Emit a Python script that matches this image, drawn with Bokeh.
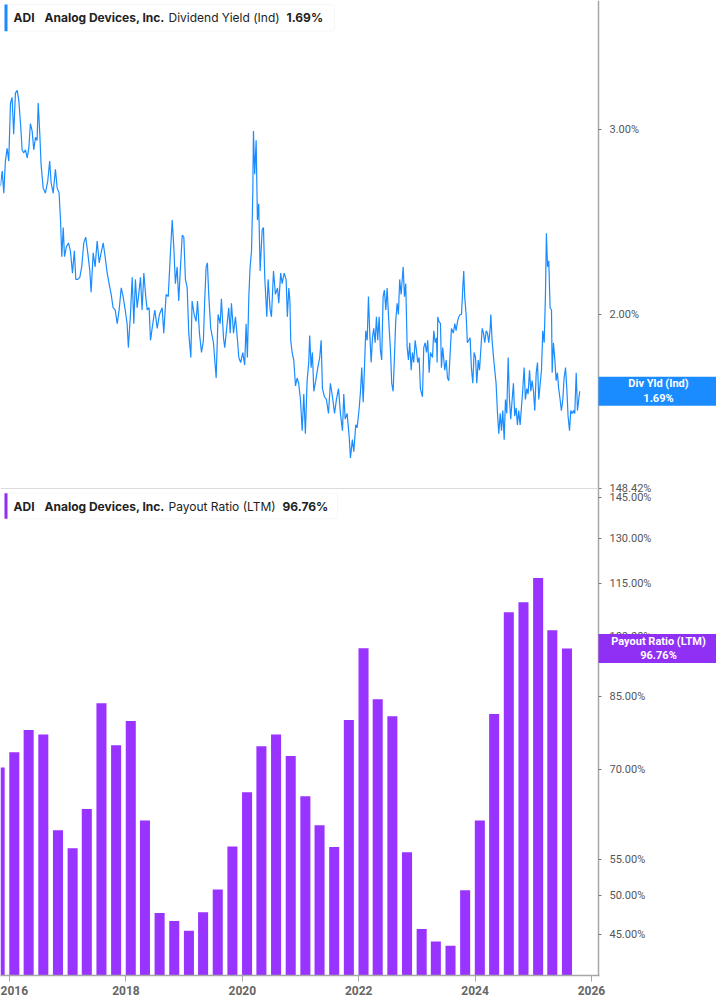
import math
import pandas as pd
from bokeh.plotting import figure
from bokeh.models import Range1d, LogScale, FixedTicker, Label, BoxAnnotation
from bokeh.embed import file_html
from bokeh.resources import INLINE

# ---------------- data ----------------
ticker_symbol = "ADI"
company = "Analog Devices, Inc."
yield_title = "Dividend Yield (Ind)"
yield_short = "Div Yld (Ind)"
payout_title = "Payout Ratio (LTM)"

# dividend yield (%): observation day (days after yield_start) and value
yield_start = "2015-11-05"
yield_days = [
    0, 11, 21, 31, 42, 52, 63, 73, 83, 94,
    105, 115, 126, 136, 146, 157, 168, 178, 188, 199,
    209, 220, 230, 237, 247, 255, 268, 282, 297, 309,
    318, 331, 345, 356, 368, 377, 385, 394, 402, 414,
    427, 439, 452, 464, 473, 485, 498, 510, 523, 535,
    548, 561, 569, 582, 594, 607, 620, 632, 645, 657,
    670, 682, 695, 707, 720, 733, 745, 758, 770, 783,
    795, 803, 816, 827, 837, 847, 858, 868, 879, 889,
    900, 912, 921, 933, 942,
    952, 969, 984, 998, 1015, 1025, 1040, 1053, 1067, 1078,
    1088, 1098, 1109, 1119, 1130, 1141, 1151, 1161, 1172, 1182,
    1195, 1203, 1216, 1228, 1237, 1249, 1262, 1274, 1282, 1291,
    1299, 1308, 1320, 1337, 1354, 1366, 1379, 1387, 1400, 1408,
    1420, 1433, 1442, 1450, 1463, 1475, 1488, 1496, 1508, 1521,
    1533, 1542, 1550, 1559, 1567, 1576, 1584, 1588, 1596, 1605,
    1613, 1621, 1630, 1643, 1651, 1659, 1672, 1680, 1693, 1701,
    1714, 1726, 1739, 1747, 1759, 1768, 1781, 1793, 1801, 1810,
    1817,
    1822, 1831, 1841, 1852, 1862, 1872, 1883, 1894, 1904, 1914,
    1925, 1935, 1941, 1950, 1958, 1967, 1979, 1992, 2004, 2013,
    2021, 2034, 2046, 2059, 2071, 2084, 2097, 2109, 2122, 2134,
    2147, 2155, 2164, 2176, 2189, 2197, 2209, 2218, 2230, 2239,
    2252, 2260, 2268, 2277, 2285, 2293, 2302, 2310, 2318, 2327,
    2335, 2343, 2352, 2360, 2368, 2377, 2385, 2393, 2402, 2410,
    2419, 2427, 2440, 2448, 2456, 2465, 2473, 2481, 2490, 2498,
    2506, 2515, 2523, 2528, 2536, 2544, 2553, 2561, 2569, 2578,
    2586, 2594, 2603, 2611, 2619, 2628, 2636, 2649, 2657, 2666,
    2674, 2682, 2691, 2699, 2712, 2720, 2729,
    2737, 2741, 2745, 2752, 2762, 2768, 2776, 2789, 2798, 2806,
    2814, 2823, 2831, 2843, 2852, 2860, 2869, 2877, 2886, 2894,
    2902, 2908, 2914, 2923, 2931, 2940, 2948, 2956, 2965, 2973,
    2982, 2990, 2999, 3007, 3015, 3024, 3032, 3040, 3049, 3057,
    3065, 3074, 3078, 3086, 3095, 3103, 3111, 3120, 3128, 3137,
    3145, 3153, 3162, 3170, 3178, 3187, 3195, 3203, 3212, 3220,
    3228, 3237, 3245, 3253, 3262, 3270, 3278, 3287, 3295, 3304,
    3312, 3321, 3329, 3337, 3346, 3354, 3363, 3371, 3379, 3388,
    3396, 3404, 3413, 3421, 3427, 3434, 3442, 3450, 3459, 3463,
    3471, 3479, 3488, 3496, 3504, 3513, 3521, 3530, 3538, 3547,
    3555, 3563, 3572, 3580, 3589, 3597, 3605, 3614, 3622, 3630,
    3636,
]
div_yield = [
    2.65, 2.74, 2.61, 2.80, 2.88, 2.80, 3.18, 3.22, 2.97, 3.25,
    3.27, 3.20, 3.04, 2.87, 2.85, 2.87, 2.82, 2.88, 3.04, 2.99,
    2.87, 2.95, 2.93, 3.18, 2.97, 2.78, 2.64, 2.61, 2.68, 2.80,
    2.67, 2.61, 2.75, 2.64, 2.61, 2.46, 2.27, 2.42, 2.27, 2.32,
    2.34, 2.30, 2.19, 2.30, 2.16, 2.16, 2.17, 2.22, 2.34, 2.37,
    2.29, 2.20, 2.10, 2.29, 2.22, 2.35, 2.24, 2.29, 2.34, 2.27,
    2.19, 2.14, 2.09, 2.03, 2.02, 1.96, 2.02, 2.12, 2.08, 2.02,
    1.96, 1.86, 2.00, 2.17, 1.96, 2.16, 2.03, 2.09, 2.17, 2.02,
    2.19, 2.08, 2.02, 2.03, 1.89,
    1.94, 2.02, 1.94, 2.00, 2.03, 1.92, 2.09, 2.08, 2.29, 2.46,
    2.32, 2.14, 2.22, 2.06, 2.22, 2.38, 2.37, 2.16, 2.12, 1.92,
    1.82, 2.06, 2.00, 1.97, 2.06, 1.92, 1.84, 1.89, 2.06, 2.22,
    2.24, 2.08, 1.94, 1.88, 1.74, 2.00, 1.96, 2.07, 1.90, 1.86,
    1.94, 2.03, 1.92, 2.05, 1.92, 1.99, 1.89, 1.82, 1.80, 1.84,
    1.79, 1.96, 1.82, 2.08, 2.22, 2.30, 2.61, 2.99, 2.72, 2.93,
    2.46, 2.55, 2.20, 2.41, 2.42, 2.17, 1.99, 2.16, 2.02, 1.99,
    2.20, 2.09, 2.12, 2.05, 2.19, 2.14, 2.19, 2.16, 1.99, 2.12,
    2.06,
    1.89, 1.84, 1.81, 1.71, 1.74, 1.72, 1.66, 1.55, 1.68, 1.54,
    1.73, 1.80, 1.91, 1.78, 1.84, 1.69, 1.73, 1.78, 1.82, 1.89,
    1.70, 1.67, 1.66, 1.61, 1.72, 1.67, 1.61, 1.66, 1.70, 1.61,
    1.55, 1.68, 1.59, 1.61, 1.53, 1.46, 1.52, 1.48, 1.57, 1.56,
    1.63, 1.69, 1.78, 1.65, 1.78, 1.93, 1.89, 2.08, 1.92, 1.80,
    1.90, 1.94, 1.88, 1.99, 1.89, 1.99, 1.85, 1.81, 2.08, 2.11,
    2.02, 2.12, 1.94, 1.85, 1.72, 1.69, 1.82, 1.97, 2.05, 2.00,
    2.16, 2.09, 2.17, 2.22, 2.08, 2.14, 1.86, 1.81, 1.88, 1.77,
    1.84, 1.80, 1.89, 1.85, 1.80, 1.82, 1.70, 1.67, 1.86, 1.88,
    1.84, 1.89, 1.76, 1.84, 1.82, 1.93, 1.88,
    1.90, 1.80, 1.99, 1.97, 1.96, 1.78, 1.86, 1.77, 1.81, 1.74,
    1.73, 1.84, 1.94, 1.92, 1.96, 1.93, 1.97, 1.99, 2.00, 2.00,
    2.12, 2.20, 2.08, 2.00, 1.88, 1.89, 1.90, 1.78, 1.72, 1.84,
    1.82, 1.72, 1.81, 1.77, 1.85, 1.94, 1.92, 1.88, 1.93, 1.92,
    1.88, 1.94, 2.00, 1.89, 1.82, 1.77, 1.72, 1.61, 1.54, 1.61,
    1.55, 1.62, 1.52, 1.66, 1.61, 1.82, 1.66, 1.59, 1.66, 1.72,
    1.60, 1.63, 1.57, 1.62, 1.57, 1.63, 1.69, 1.78, 1.66, 1.70,
    1.68, 1.77, 1.69, 1.73, 1.69, 1.62, 1.76, 1.80, 1.66, 1.72,
    1.77, 1.93, 1.88, 2.09, 2.39, 2.22, 2.25, 2.03, 2.02, 1.76,
    1.88, 1.82, 1.73, 1.76, 1.70, 1.66, 1.62, 1.66, 1.74, 1.78,
    1.70, 1.60, 1.55, 1.62, 1.61, 1.62, 1.61, 1.76, 1.62, 1.66,
    1.69,
]

# payout ratio (LTM, %), fiscal quarter ends
payout_dates = [
    "2015-10-31", "2016-01-31", "2016-04-30", "2016-07-31", "2016-10-31",
    "2017-01-31", "2017-04-30", "2017-07-31", "2017-10-31", "2018-01-31",
    "2018-04-30", "2018-07-31", "2018-10-31", "2019-01-31", "2019-04-30",
    "2019-07-31", "2019-10-31", "2020-01-31", "2020-04-30", "2020-07-31",
    "2020-10-31", "2021-01-31", "2021-04-30", "2021-07-31", "2021-10-31",
    "2022-01-31", "2022-04-30", "2022-07-31", "2022-10-31", "2023-01-31",
    "2023-04-30", "2023-07-31", "2023-10-31", "2024-01-31", "2024-04-30",
    "2024-07-31", "2024-10-31", "2025-01-31", "2025-04-30", "2025-07-31",
]
payout_ratio = [
    70.4, 73.3, 77.8, 76.9, 59.5, 56.7, 63.0, 83.6, 74.7, 79.7,
    61.1, 47.7, 46.7, 45.5, 47.8, 50.8, 57.0, 65.9, 74.5, 76.9,
    72.6, 65.2, 60.3, 56.9, 79.9, 96.8, 84.5, 80.7, 56.1, 45.7,
    44.2, 43.7, 50.7, 61.1, 81.2, 106.6, 109.5, 116.8, 101.6, 96.76,
]

pay_ticks = [45.0, 50.0, 55.0, 70.0, 85.0, 100.0, 115.0, 130.0, 145.0]
pay_top = 148.42
yld_ticks = [2.0, 3.0]
year_ticks = [2016, 2018, 2020, 2022, 2024, 2026]

# ---------------- styling / geometry ----------------
BLUE = "#1a8cff"
PURPLE = "#9933ff"
PURPLE_BOX = "#9030f5"
AXIS_GREY = "#a6a6a6"
TXT = "#222222"

FIG_W, FIG_H = 716, 1004
AXIS_PX = 598                     # page column of the value axis
F_TOP, F_SPLIT, F_BOTTOM = 0, 488, 975
X_ANCHOR = ("2026-01-01", 591.0)  # a date and its page column
DAYS_PER_PX = 6.277
PAY_VIEW = (40.36, pay_top)       # visible payout span of the lower panel
YLD_PX_PER_LN = 456.0             # upper panel log scale (px per e-fold)
YLD_REF = (2.0, 314.0)            # a yield level and its page row

DAY_MS = 86400000.0


def ms(ts):
    return pd.Timestamp(ts).value / 1e6


x0 = ms(X_ANCHOR[0]) - X_ANCHOR[1] * DAYS_PER_PX * DAY_MS
x1 = x0 + FIG_W * DAYS_PER_PX * DAY_MS
H = F_BOTTOM - F_TOP
lp0, lp1 = math.log(PAY_VIEW[0]), math.log(PAY_VIEW[1])
main_lo = PAY_VIEW[0]
main_hi = math.exp(lp0 + (lp1 - lp0) * H / (F_BOTTOM - F_SPLIT))
yld_hi = YLD_REF[0] * math.exp((YLD_REF[1] - F_TOP) / YLD_PX_PER_LN)
yld_lo = YLD_REF[0] * math.exp((YLD_REF[1] - F_BOTTOM) / YLD_PX_PER_LN)


def xpx(px):
    return x0 + px / FIG_W * (x1 - x0)


def ypx(py):
    a, b = math.log(main_lo), math.log(main_hi)
    return math.exp(a + (F_BOTTOM - py) / H * (b - a))


def main_to_py(v):
    a, b = math.log(main_lo), math.log(main_hi)
    return F_BOTTOM - (math.log(v) - a) / (b - a) * H


def yld_to_main(v):
    f = (math.log(v) - math.log(yld_lo)) / (math.log(yld_hi) - math.log(yld_lo))
    return math.exp(math.log(main_lo) + f * (math.log(main_hi) - math.log(main_lo)))


p = figure(
    width=FIG_W, height=FIG_H,
    x_axis_type="datetime", y_axis_type="log", y_axis_location="right",
    x_range=Range1d(x0, x1), y_range=Range1d(main_lo, main_hi),
    toolbar_location=None, output_backend="svg",
    min_border_left=0, min_border_top=0, min_border_right=0,
    min_border_bottom=FIG_H - H,
)
p.outline_line_color = None
p.background_fill_color = "white"
p.border_fill_color = "white"
p.xgrid.visible = False
p.ygrid.visible = False
p.extra_y_ranges = {"yld": Range1d(yld_lo, yld_hi)}
p.extra_y_scales = {"yld": LogScale()}

# marks
dates = pd.Timestamp(yield_start) + pd.to_timedelta(yield_days, unit="D")
p.line(x=dates, y=div_yield, y_range_name="yld", line_color=BLUE, line_width=1.2)

p.vbar(x=pd.to_datetime(payout_dates), top=payout_ratio, bottom=1.0,
       width=63 * DAY_MS, fill_color=PURPLE, line_color=None)

# panel separator (stops at the value axis)
p.add_layout(BoxAnnotation(
    left=xpx(0), right=xpx(AXIS_PX), top=ypx(F_SPLIT - 0.5), bottom=ypx(F_SPLIT + 0.5),
    fill_color="#dcdcdc", fill_alpha=1.0, line_color=None,
))

# value axis, drawn at a fixed column inside the frame
yax = p.yaxis[0]
yax.fixed_location = xpx(AXIS_PX)
all_ticks = pay_ticks + [pay_top] + [yld_to_main(t) for t in yld_ticks]
overrides = {float(t): f"{t:.2f}%" for t in pay_ticks + [pay_top]}
for t in yld_ticks:
    overrides[yld_to_main(t)] = f"{t:.2f}%"
yax.ticker = FixedTicker(ticks=all_ticks)
yax.major_label_overrides = overrides
yax.axis_line_color = AXIS_GREY
yax.axis_line_width = 1.5
yax.major_tick_line_color = "#777777"
yax.major_tick_out = 3
yax.major_tick_in = 0
yax.minor_tick_line_color = None
yax.major_label_standoff = 8
yax.major_label_text_font = "Roboto"
yax.major_label_text_font_size = "11px"
yax.major_label_text_color = "#555555"

# bottom axis
xax = p.xaxis[0]
year_ms = [ms(f"{y}-01-01") for y in year_ticks]
xax.ticker = FixedTicker(ticks=year_ms)
xax.major_label_overrides = {m: str(y) for m, y in zip(year_ms, year_ticks)}
xax.bounds = (xpx(0), xpx(AXIS_PX + 1))
xax.axis_line_color = AXIS_GREY
xax.axis_line_width = 1.5
xax.major_tick_line_color = AXIS_GREY
xax.major_tick_out = 6
xax.major_tick_in = 0
xax.minor_tick_line_color = None
xax.major_label_standoff = 4
xax.major_label_text_font = "Roboto"
xax.major_label_text_font_style = "bold"
xax.major_label_text_font_size = "12px"
xax.major_label_text_color = "#666666"

# value boxes on the axis
last_yield = div_yield[-1]
last_pay = payout_ratio[-1]
box_l, box_r = xpx(AXIS_PX), xpx(FIG_W + 2)
box_cx = xpx((AXIS_PX + FIG_W) / 2 + 1)


def value_box(main_value, color, text, label_y, y_range_name="default"):
    cy = main_to_py(main_value)
    p.add_layout(BoxAnnotation(
        left=box_l, right=box_r, top=ypx(cy - 14.5), bottom=ypx(cy + 14.5),
        fill_color=color, fill_alpha=1.0, line_color=None, level="overlay",
    ))
    p.add_layout(Label(
        x=box_cx, y=label_y, y_range_name=y_range_name, text=text,
        text_align="center", text_baseline="middle", text_color="white",
        text_font="Roboto", text_font_style="bold", text_font_size="11px",
        text_line_height=1.15, level="overlay",
    ))


value_box(yld_to_main(last_yield), BLUE, f"{yield_short}\n{last_yield:.2f}%", last_yield, "yld")
value_box(last_pay, PURPLE_BOX, f"{payout_title}\n{last_pay:.2f}%", last_pay)


# legend boxes
def legend(top_py, bottom_py, left_px, right_px, accent, parts):
    p.add_layout(BoxAnnotation(
        left=xpx(left_px), right=xpx(right_px), top=ypx(top_py), bottom=ypx(bottom_py),
        fill_color="white", fill_alpha=1.0, line_color="#e3e3e3", line_width=1,
        border_radius=4,
    ))
    p.add_layout(BoxAnnotation(
        left=xpx(left_px), right=xpx(left_px + 3), top=ypx(top_py), bottom=ypx(bottom_py),
        fill_color=accent, fill_alpha=1.0, line_color=None,
    ))
    cy = (top_py + bottom_py) / 2
    for text, px, style in parts:
        p.add_layout(Label(
            x=xpx(px), y=ypx(cy), text=text, text_align="left", text_baseline="middle",
            text_font="Inter", text_font_size="12px", text_font_style=style,
            text_color=TXT,
        ))


legend(4, 30.7, 4, 334, BLUE, [
    (ticker_symbol, 13, "bold"),
    (company, 44, "bold"),
    (yield_title, 168, "normal"),
    (f"{last_yield:.2f}%", 286, "bold"),
])
legend(492.7, 518.3, 4, 337, PURPLE_BOX, [
    (ticker_symbol, 13, "bold"),
    (company, 44, "bold"),
    (payout_title, 168, "normal"),
    (f"{last_pay:.2f}%", 282, "bold"),
])

open("out.html", "w").write(file_html(p, INLINE))
